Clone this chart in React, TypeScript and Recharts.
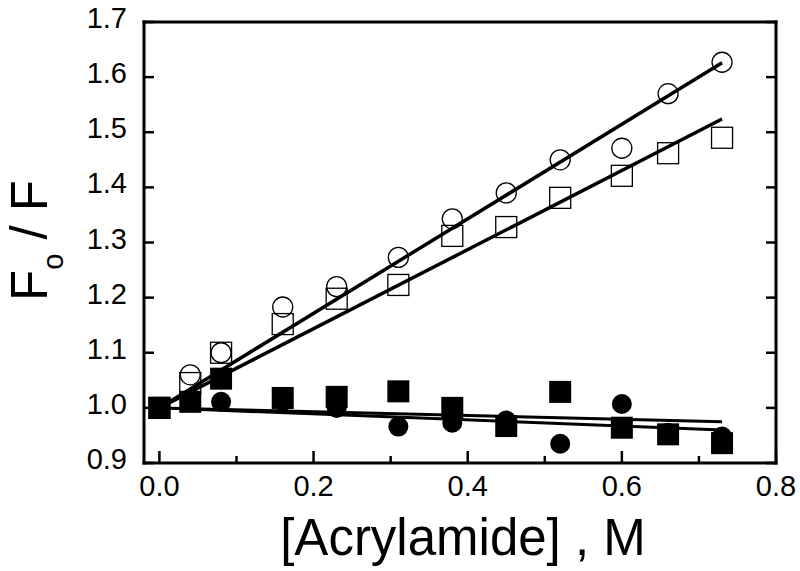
import { ComposedChart, Scatter, Line, XAxis, YAxis, Label } from 'recharts'

// acrylamide concentration (M)
const concentrations = [0, 0.04, 0.08, 0.16, 0.23, 0.31, 0.38, 0.45, 0.52, 0.6, 0.66, 0.73]

// Fo/F for the four samples
const openCircle = [1.0, 1.06, 1.1, 1.183, 1.22, 1.273, 1.343, 1.39, 1.45, 1.471, 1.57, 1.627]
const openSquare = [1.0, 1.045, 1.1, 1.152, 1.198, 1.223, 1.312, 1.328, 1.381, 1.421, 1.462, 1.49]
const filledSquare = [1.0, 1.011, 1.053, 1.018, 1.02, 1.03, 1.0, 0.967, 1.029, 0.964, 0.952, 0.936]
const filledCircle = [1.0, 1.01, 1.011, 1.012, 1.0, 0.966, 0.973, 0.977, 0.935, 1.007, 0.955, 0.948]

// linear fits (end points)
const fitX = [0, 0.73]
const openCircleFit = [1.0, 1.626]
const openSquareFit = [1.0, 1.524]
const filledSquareFit = [1.0, 0.975]
const filledCircleFit = [1.0, 0.96]

const xTicks = [0, 0.1, 0.2, 0.3, 0.4, 0.5, 0.6, 0.7, 0.8]
const yTicks = [0.9, 1.0, 1.1, 1.2, 1.3, 1.4, 1.5, 1.6, 1.7]

const FONT = '"Liberation Sans", Arial, Helvetica, sans-serif'

const pts = (ys: number[]) => concentrations.map((x, i) => ({ x, y: ys[i] }))
const fit = (ys: number[]) => fitX.map((x, i) => ({ x, y: ys[i] }))

const isMajor = (v: number) => Math.round(v * 10) % 2 === 0

function BottomTick({ x, y, payload }: any) {
  const major = isMajor(payload.value)
  return (
    <g>
      <line x1={x} x2={x} y1={y} y2={y - (major ? 12 : 7)} stroke="#000" strokeWidth={2.5} />
      {major && (
        <text x={x} y={y + 33} textAnchor="middle" fontSize={29} fontFamily={FONT} fill="#000">
          {payload.value.toFixed(1)}
        </text>
      )}
    </g>
  )
}

function TopTick({ x, y, payload }: any) {
  const major = isMajor(payload.value)
  return <line x1={x} x2={x} y1={y} y2={y + (major ? 12 : 7)} stroke="#000" strokeWidth={2.5} />
}

function LeftTick({ x, y, payload }: any) {
  return (
    <g>
      <line x1={x} x2={x + 10} y1={y} y2={y} stroke="#000" strokeWidth={2.5} />
      <text x={x - 17} y={y + 6} textAnchor="end" fontSize={29} fontFamily={FONT} fill="#000">
        {payload.value.toFixed(1)}
      </text>
    </g>
  )
}

function RightTick({ x, y }: any) {
  return <line x1={x} x2={x - 10} y1={y} y2={y} stroke="#000" strokeWidth={2.5} />
}

const OpenCircle = ({ cx, cy }: any) => (
  <circle cx={cx} cy={cy} r={10} fill="none" stroke="#000" strokeWidth={1.3} />
)
const OpenSquare = ({ cx, cy }: any) => (
  <rect x={cx - 10.5} y={cy - 10.5} width={21} height={21} fill="none" stroke="#000" strokeWidth={1.3} />
)
const FilledSquare = ({ cx, cy }: any) => (
  <rect x={cx - 11} y={cy - 11} width={22} height={22} fill="#000" />
)
const FilledCircle = ({ cx, cy }: any) => <circle cx={cx} cy={cy} r={10} fill="#000" />

const XTitle = ({ viewBox }: any) => (
  <text
    x={viewBox.x + viewBox.width / 2 + 3}
    y={viewBox.y + 92}
    textAnchor="middle"
    fontSize={51}
    fontFamily={FONT}
    fill="#000"
  >
    [Acrylamide] , M
  </text>
)

const YTitle = ({ viewBox }: any) => (
  <text
    transform={`translate(47, ${viewBox.y + viewBox.height / 2 - 2}) rotate(-90)`}
    textAnchor="middle"
    fontSize={51}
    fontFamily={FONT}
    fill="#000"
  >
    F
    <tspan fontSize={29} dy={16}>o</tspan>
    <tspan dy={-16}> / F</tspan>
  </text>
)

const frame = { stroke: '#000', strokeWidth: 3, strokeLinecap: 'square' as const }

export default function App() {
  return (
    <div style={{ position: 'absolute', left: 0, top: 0, background: '#fff' }}>
      <ComposedChart width={800} height={571} margin={{ top: 0, right: 0, bottom: 0, left: 0 }}>
        <XAxis
          dataKey="x"
          type="number"
          domain={[-0.02, 0.8]}
          allowDataOverflow
          ticks={xTicks}
          interval={0}
          height={108}
          tickSize={0}
          tickMargin={0}
          tickLine={false}
          axisLine={frame}
          tick={<BottomTick />}
        >
          <Label content={<XTitle />} />
        </XAxis>
        <XAxis
          xAxisId="top"
          orientation="top"
          type="number"
          domain={[-0.02, 0.8]}
          allowDataOverflow
          ticks={xTicks}
          interval={0}
          height={22}
          tickSize={0}
          tickMargin={0}
          tickLine={false}
          axisLine={frame}
          tick={<TopTick />}
        />
        <YAxis
          dataKey="y"
          type="number"
          domain={[0.9, 1.7]}
          allowDataOverflow
          ticks={yTicks}
          interval={0}
          width={144}
          tickSize={0}
          tickMargin={0}
          tickLine={false}
          axisLine={frame}
          tick={<LeftTick />}
        >
          <Label content={<YTitle />} />
        </YAxis>
        <YAxis
          yAxisId="right"
          orientation="right"
          type="number"
          domain={[0.9, 1.7]}
          allowDataOverflow
          ticks={yTicks}
          interval={0}
          width={24}
          tickSize={0}
          tickMargin={0}
          tickLine={false}
          axisLine={frame}
          tick={<RightTick />}
        />
        <Line data={fit(openCircleFit)} dataKey="y" type="linear" stroke="#000" strokeWidth={3.5} dot={false} isAnimationActive={false} />
        <Line data={fit(openSquareFit)} dataKey="y" type="linear" stroke="#000" strokeWidth={3.5} dot={false} isAnimationActive={false} />
        <Line data={fit(filledSquareFit)} dataKey="y" type="linear" stroke="#000" strokeWidth={3} dot={false} isAnimationActive={false} />
        <Line data={fit(filledCircleFit)} dataKey="y" type="linear" stroke="#000" strokeWidth={3} dot={false} isAnimationActive={false} />
        <Scatter data={pts(openCircle)} shape={OpenCircle} isAnimationActive={false} />
        <Scatter data={pts(openSquare)} shape={OpenSquare} isAnimationActive={false} />
        <Scatter data={pts(filledCircle)} shape={FilledCircle} isAnimationActive={false} />
        <Scatter data={pts(filledSquare)} shape={FilledSquare} isAnimationActive={false} />
      </ComposedChart>
    </div>
  )
}
